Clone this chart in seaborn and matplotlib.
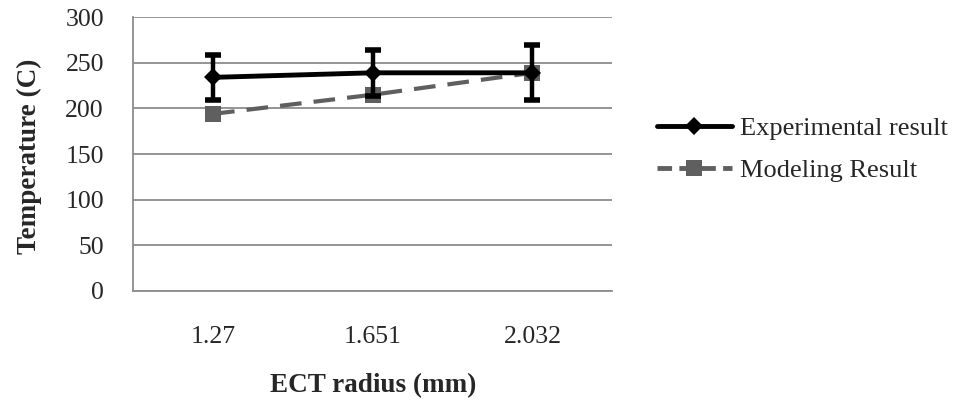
import matplotlib
matplotlib.use("Agg")
import matplotlib.pyplot as plt
import pandas as pd
import seaborn as sns
from matplotlib.lines import Line2D

radius = ["1.27", "1.651", "2.032"]
experimental = [234, 239, 239]
experimental_err = [25, 25, 30]
modeling = [194, 215, 239]

df = pd.DataFrame({"radius": radius, "Experimental result": experimental,
                   "Modeling Result": modeling})

sns.set_style("white")
plt.rcParams["font.family"] = ["Liberation Serif", "DejaVu Serif"]

fig = plt.figure(figsize=(9.72, 4.08), dpi=100)
ax = fig.add_axes([0.137, 0.287, 0.493, 0.671])

grid_c = "#8c8c8c"
grey = "#5f5f5f"
ax.set_ylim(0, 300)
ax.set_yticks(range(0, 301, 50))
ax.yaxis.grid(True, color=grid_c, linewidth=1.3)
ax.set_axisbelow(True)

sns.lineplot(data=df, x="radius", y="Modeling Result", ax=ax, color=grey,
             linewidth=3, linestyle=(0, (5.2, 2.9)), marker="s", markersize=11,
             markeredgewidth=0, sort=False)
ax.errorbar(range(len(radius)), experimental, yerr=experimental_err, fmt="none",
            ecolor="black", elinewidth=3.2, capsize=5.5, capthick=4)
sns.lineplot(data=df, x="radius", y="Experimental result", ax=ax, color="black",
             linewidth=3.5, marker="D", markersize=9, markeredgewidth=0, sort=False)

ax.set_xlim(-0.5, 2.5)
ax.set_xticks([-0.5, 0.5, 1.5, 2.5])
ax.set_xticklabels([])
ax.set_xticks(range(len(radius)), minor=True)
ax.set_xticklabels(radius, minor=True)
ax.tick_params(axis="x", which="major", length=8, width=1.3, color=grid_c, direction="out")
ax.tick_params(axis="x", which="minor", length=0, pad=25, labelsize=18.5)
ax.tick_params(axis="y", length=8, width=1.3, color=grid_c, direction="out",
               labelsize=18.5, pad=13)

for s in ["top", "right"]:
    ax.spines[s].set_visible(False)
for s in ["left", "bottom"]:
    ax.spines[s].set_color(grid_c)
    ax.spines[s].set_linewidth(1.3)

ax.set_xlabel("ECT radius (mm)", fontsize=19.5, fontweight="bold")
ax.set_ylabel("Temperature (C)", fontsize=19.5, fontweight="bold")
ax.xaxis.set_label_coords(0.5, -0.30)
ax.yaxis.set_label_coords(-0.19, 0.49)

handles = [
    Line2D([], [], color="black", linewidth=3.5, marker="D", markersize=9, markeredgewidth=0),
    Line2D([], [], color=grey, linewidth=3.5, linestyle=(0, (3, 1.5)), marker="s",
           markersize=11, markeredgewidth=0),
]
fig.legend(handles, ["Experimental result", "Modeling Result"], loc="upper left",
           bbox_to_anchor=(0.662, 0.747), frameon=False, fontsize=19, borderpad=0,
           handlelength=2.85, handletextpad=0.3, labelspacing=0.7)

fig.savefig("out.png", dpi=100)
